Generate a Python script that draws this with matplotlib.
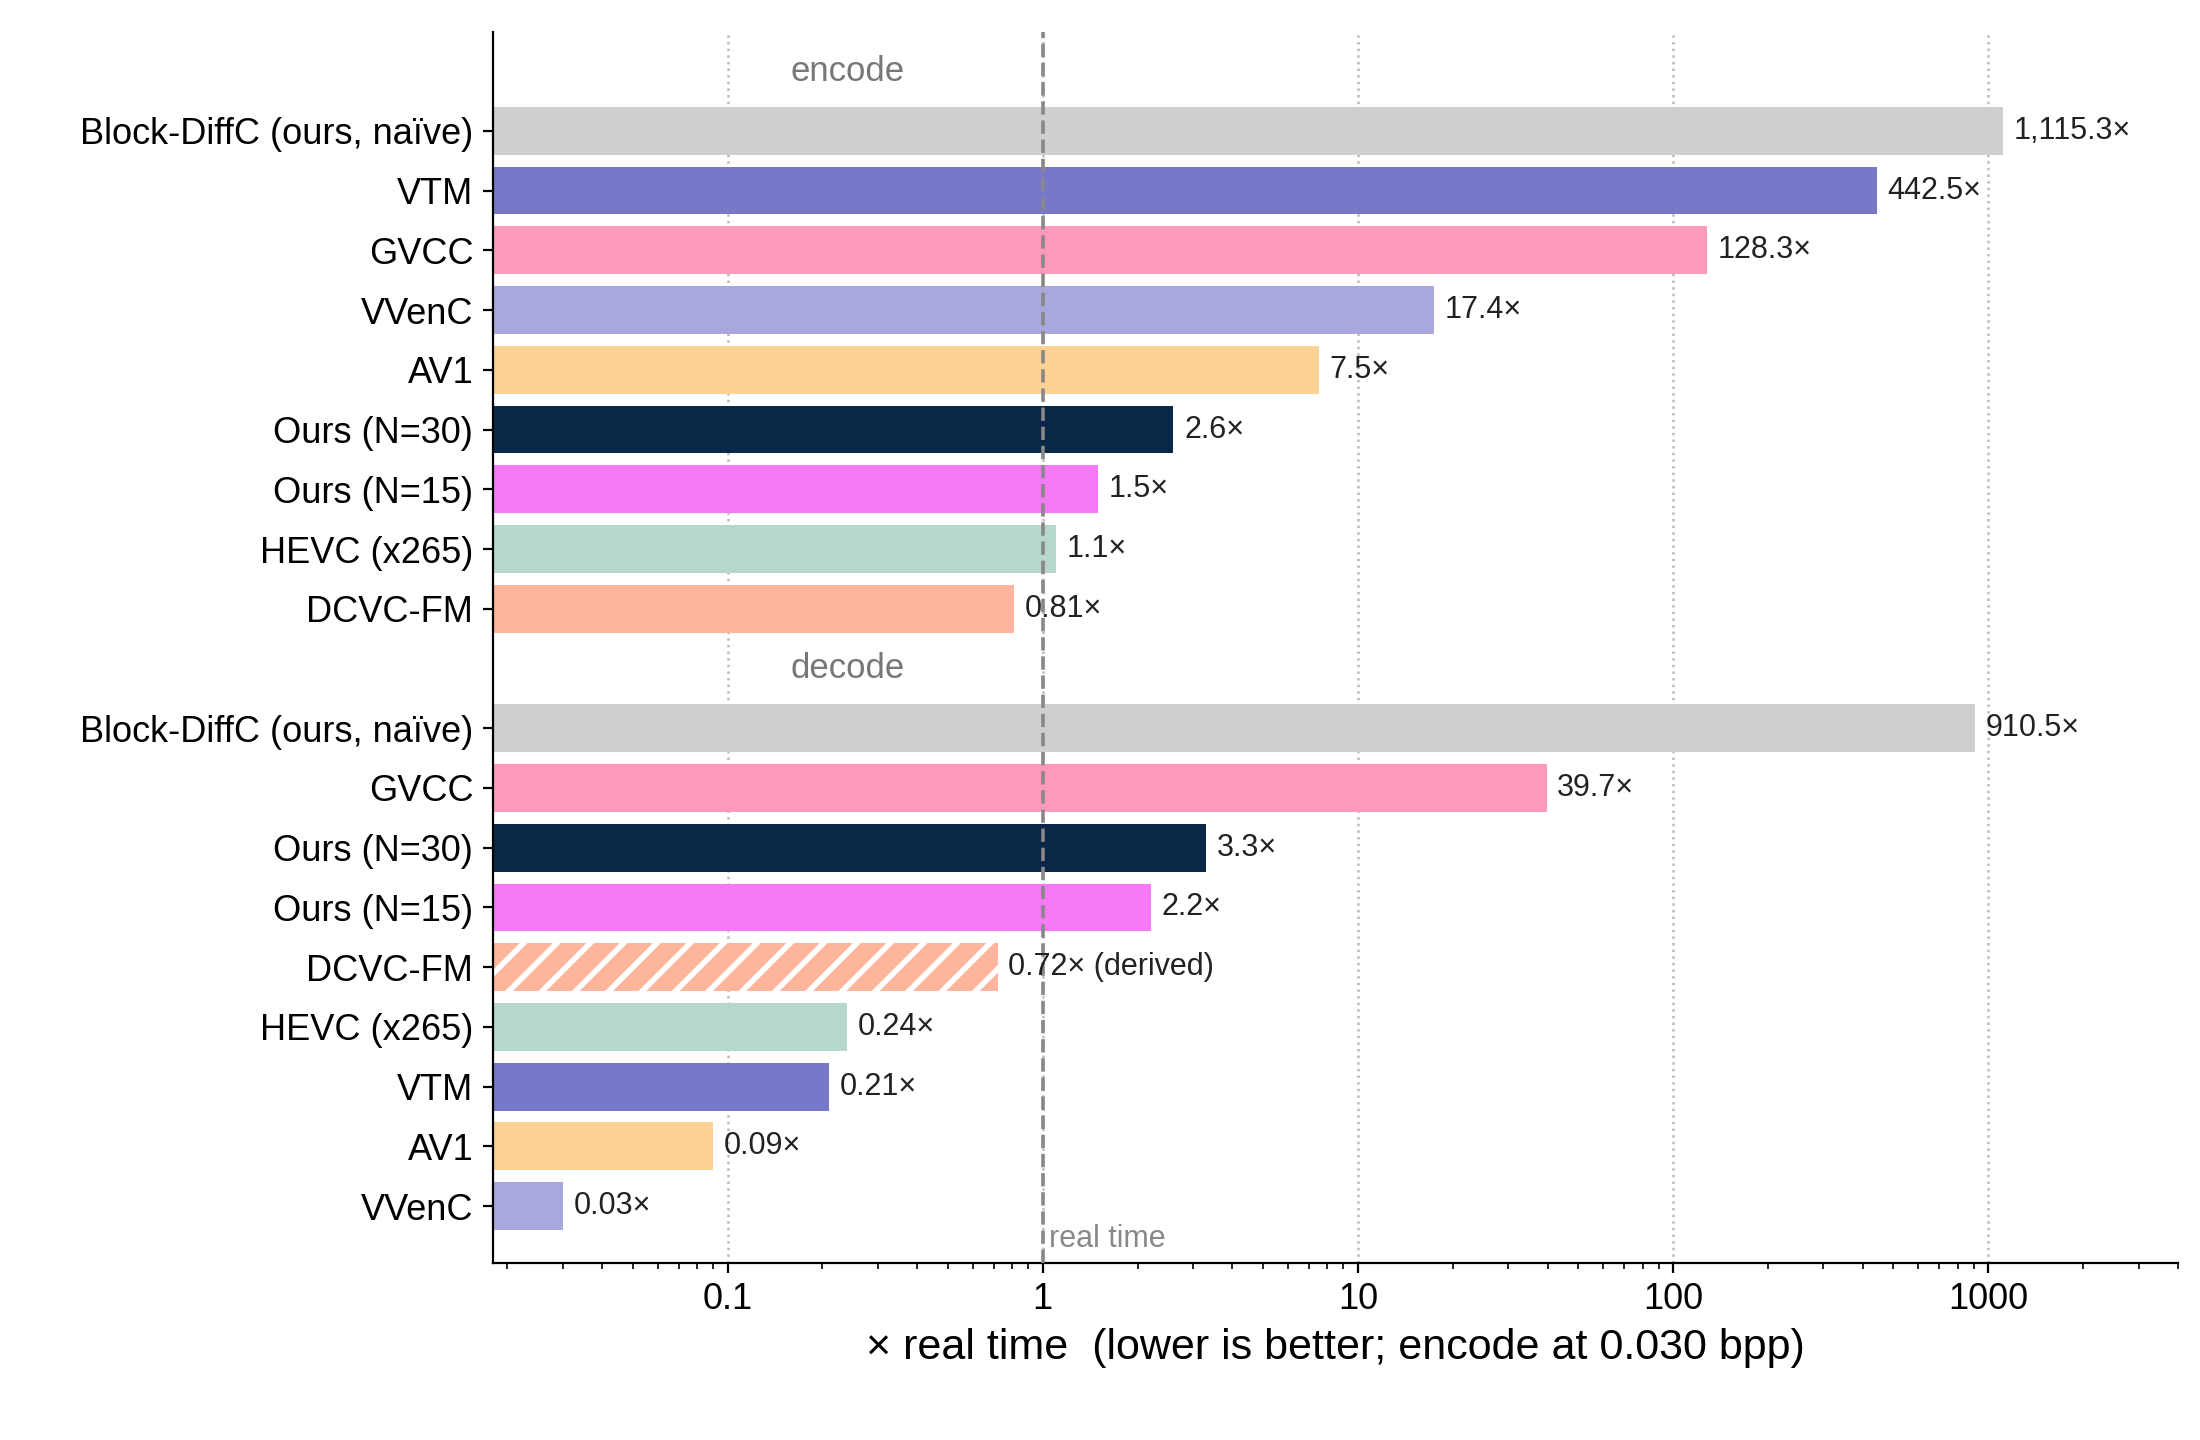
import matplotlib
matplotlib.use("Agg")
import matplotlib.pyplot as plt
from matplotlib.ticker import FixedLocator, FixedFormatter, LogLocator, NullFormatter

plt.rcParams['font.family'] = ['Liberation Sans', 'DejaVu Sans']
plt.rcParams['hatch.linewidth'] = 2

enc_labels = ["Block-DiffC (ours, naïve)", "VTM", "GVCC", "VVenC", "AV1", "Ours (N=30)", "Ours (N=15)", "HEVC (x265)", "DCVC-FM"]
enc_values = [1115.3, 442.5, 128.3, 17.4, 7.5, 2.6, 1.5, 1.1, 0.81]
enc_text = ["1,115.3×", "442.5×", "128.3×", "17.4×", "7.5×", "2.6×", "1.5×", "1.1×", "0.81×"]
dec_labels = ["Block-DiffC (ours, naïve)", "GVCC", "Ours (N=30)", "Ours (N=15)", "DCVC-FM", "HEVC (x265)", "VTM", "AV1", "VVenC"]
dec_values = [910.5, 39.7, 3.3, 2.2, 0.72, 0.24, 0.21, 0.09, 0.03]
dec_text = ["910.5×", "39.7×", "3.3×", "2.2×", "0.72× (derived)", "0.24×", "0.21×", "0.09×", "0.03×"]

colors = {"Block-DiffC (ours, naïve)": "#cfcfcf", "VTM": "#7878c8", "GVCC": "#ff99bb",
          "VVenC": "#a8a8dc", "AV1": "#ffd194", "Ours (N=30)": "#0a2747",
          "Ours (N=15)": "#f67af6", "HEVC (x265)": "#b7d6cc", "DCVC-FM": "#ffb59c"}

fig = plt.figure(figsize=(11, 7.2), dpi=200)
ax = fig.add_axes([0.224, 0.123, 0.766, 0.855])
xmin, xmax = 0.018, 4000
ax.set_xscale('log')
ax.set_xlim(xmin, xmax)

yt, yl = [], []
for i, (lab, v, t) in enumerate(zip(enc_labels, enc_values, enc_text)):
    y = 1 + i
    ax.barh(y, v - xmin, left=xmin, height=0.8, color=colors[lab], zorder=2)
    ax.text(v * 1.08, y, t, va='center', ha='left', fontsize=11, color='#222')
    yt.append(y); yl.append(lab)
for i, (lab, v, t) in enumerate(zip(dec_labels, dec_values, dec_text)):
    y = 11 + i
    hatched = t.endswith("(derived)")
    ax.barh(y, v - xmin, left=xmin, height=0.8, color=colors[lab], zorder=2,
            hatch='//' if hatched else None, edgecolor='white' if hatched else None,
            linewidth=0)
    ax.text(v * 1.08, y, t, va='center', ha='left', fontsize=11, color='#222', zorder=4)
    yt.append(y); yl.append(lab)

ax.text(0.24, 0, "encode", ha='center', va='center', fontsize=12.5, color='#777')
ax.text(0.24, 10, "decode", ha='center', va='center', fontsize=12.5, color='#777')
ax.axvline(1, color='#888', linestyle='--', linewidth=1.3, zorder=3)
ax.text(1.05, 19.55, "real time", ha='left', va='center', fontsize=11, color='#888')

ax.set_ylim(19.95, -0.66)
ax.set_yticks(yt)
ax.set_yticklabels(yl, fontsize=13)
ax.xaxis.set_major_locator(FixedLocator([0.1, 1, 10, 100, 1000]))
ax.xaxis.set_major_formatter(FixedFormatter(["0.1", "1", "10", "100", "1000"]))
ax.xaxis.set_minor_locator(LogLocator(base=10, subs=range(2, 10)))
ax.xaxis.set_minor_formatter(NullFormatter())
ax.tick_params(axis='x', labelsize=13)
ax.grid(axis='x', which='major', linestyle=':', color='#bbb', linewidth=0.9, zorder=0)
ax.set_axisbelow(True)
for s in ['top', 'right']:
    ax.spines[s].set_visible(False)
ax.set_xlabel("× real time  (lower is better; encode at 0.030 bpp)", fontsize=15.5)
fig.savefig("out.png", dpi=200)
